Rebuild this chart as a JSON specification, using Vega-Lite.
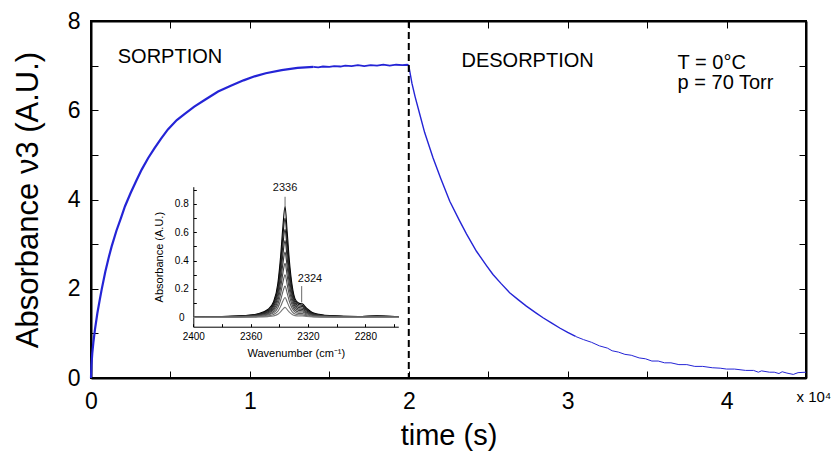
{
"$schema": "https://vega.github.io/schema/vega-lite/v6.json",
"width": 715, "height": 357,
"autosize": {"type": "none"},
"padding": {"left": 91, "top": 21, "right": 31, "bottom": 74},
"background": "white",
"view": {"stroke": "#000", "strokeWidth": 2},
"config": {"font": "Liberation Sans", "view": {"stroke": "#000", "strokeWidth": 2},
 "axis": {"grid": false, "labelColor": "#000", "titleColor": "#000", "tickColor": "#000", "domainColor": "#000", "titleFontWeight": "normal", "labelFlush": false, "labelOverlap": false}},
"datasets": {
"curve": [
{"t":0,"v":0,"seg":"s1"},{"t":0.003,"v":0.3,"seg":"s1"},{"t":0.008,"v":0.55,"seg":"s1"},{"t":0.015,"v":0.8,"seg":"s1"},{"t":0.025,"v":1.09,"seg":"s1"},{"t":0.04,"v":1.45,"seg":"s1"},{"t":0.055,"v":1.75,"seg":"s1"},{"t":0.067,"v":1.98,"seg":"s1"},{"t":0.09,"v":2.38,"seg":"s1"},{"t":0.11,"v":2.68,"seg":"s1"},{"t":0.13,"v":2.95,"seg":"s1"},{"t":0.16,"v":3.3,"seg":"s1"},{"t":0.19,"v":3.6,"seg":"s1"},{"t":0.214,"v":3.85,"seg":"s1"},{"t":0.25,"v":4.15,"seg":"s1"},{"t":0.285,"v":4.42,"seg":"s1"},{"t":0.319,"v":4.67,"seg":"s1"},{"t":0.36,"v":4.93,"seg":"s1"},{"t":0.4,"v":5.15,"seg":"s1"},{"t":0.44,"v":5.36,"seg":"s1"},{"t":0.484,"v":5.57,"seg":"s1"},{"t":0.54,"v":5.78,"seg":"s1"},{"t":0.59,"v":5.92,"seg":"s1"},{"t":0.65,"v":6.08,"seg":"s1"},{"t":0.72,"v":6.24,"seg":"s1"},{"t":0.8,"v":6.42,"seg":"s1"},{"t":0.88,"v":6.55,"seg":"s1"},{"t":0.96,"v":6.67,"seg":"s1"},{"t":1.03,"v":6.76,"seg":"s1"},{"t":1.1,"v":6.83,"seg":"s1"},{"t":1.2,"v":6.9,"seg":"s1"},{"t":1.3,"v":6.95,"seg":"s1"},{"t":1.4,"v":6.97,"seg":"s1"},
{"t":1.4,"v":6.97,"seg":"s2"},{"t":1.43,"v":6.96,"seg":"s2"},{"t":1.46,"v":6.98,"seg":"s2"},{"t":1.5,"v":6.97,"seg":"s2"},{"t":1.53,"v":6.99,"seg":"s2"},{"t":1.57,"v":6.98,"seg":"s2"},{"t":1.6,"v":7.0,"seg":"s2"},{"t":1.64,"v":6.99,"seg":"s2"},{"t":1.68,"v":7.01,"seg":"s2"},{"t":1.72,"v":6.99,"seg":"s2"},{"t":1.76,"v":7.01,"seg":"s2"},{"t":1.8,"v":7.0,"seg":"s2"},{"t":1.84,"v":7.02,"seg":"s2"},{"t":1.88,"v":7.0,"seg":"s2"},{"t":1.92,"v":7.02,"seg":"s2"},{"t":1.96,"v":7.01,"seg":"s2"},{"t":1.99,"v":7.02,"seg":"s2"},{"t":2.0,"v":7.0,"seg":"s2"},
{"t":2.0,"v":7.0,"seg":"d1"},{"t":2.005,"v":6.9,"seg":"d1"},{"t":2.02,"v":6.6,"seg":"d1"},{"t":2.04,"v":6.3,"seg":"d1"},{"t":2.07,"v":5.9,"seg":"d1"},{"t":2.1,"v":5.5,"seg":"d1"},{"t":2.153,"v":4.93,"seg":"d1"},{"t":2.2,"v":4.48,"seg":"d1"},{"t":2.258,"v":3.96,"seg":"d1"},{"t":2.32,"v":3.52,"seg":"d1"},{"t":2.363,"v":3.23,"seg":"d1"},{"t":2.426,"v":2.84,"seg":"d1"},{"t":2.489,"v":2.52,"seg":"d1"},{"t":2.53,"v":2.32,"seg":"d1"},{"t":2.58,"v":2.12,"seg":"d1"},{"t":2.635,"v":1.91,"seg":"d1"},{"t":2.69,"v":1.75,"seg":"d1"},{"t":2.74,"v":1.61,"seg":"d1"},{"t":2.8,"v":1.46,"seg":"d1"},{"t":2.845,"v":1.35,"seg":"d1"},{"t":2.9,"v":1.23,"seg":"d1"},{"t":2.95,"v":1.12,"seg":"d1"},{"t":3.0,"v":1.02,"seg":"d1"},{"t":3.05,"v":0.93,"seg":"d1"},
{"t":3.05,"v":0.93,"seg":"d2"},{"t":3.1,"v":0.86,"seg":"d2"},{"t":3.15,"v":0.8,"seg":"d2"},{"t":3.2,"v":0.72,"seg":"d2"},{"t":3.25,"v":0.67,"seg":"d2"},{"t":3.28,"v":0.61,"seg":"d2"},{"t":3.32,"v":0.58,"seg":"d2"},{"t":3.36,"v":0.53,"seg":"d2"},{"t":3.4,"v":0.51,"seg":"d2"},{"t":3.45,"v":0.45,"seg":"d2"},{"t":3.49,"v":0.43,"seg":"d2"},{"t":3.53,"v":0.38,"seg":"d2"},{"t":3.57,"v":0.38,"seg":"d2"},{"t":3.61,"v":0.34,"seg":"d2"},{"t":3.65,"v":0.34,"seg":"d2"},{"t":3.7,"v":0.3,"seg":"d2"},{"t":3.75,"v":0.3,"seg":"d2"},{"t":3.8,"v":0.26,"seg":"d2"},{"t":3.85,"v":0.26,"seg":"d2"},{"t":3.91,"v":0.23,"seg":"d2"},{"t":3.96,"v":0.22,"seg":"d2"},{"t":4.0,"v":0.2,"seg":"d2"},{"t":4.05,"v":0.2,"seg":"d2"},{"t":4.12,"v":0.17,"seg":"d2"},{"t":4.17,"v":0.17,"seg":"d2"},{"t":4.2,"v":0.13,"seg":"d2"},{"t":4.22,"v":0.16,"seg":"d2"},{"t":4.27,"v":0.13,"seg":"d2"},{"t":4.3,"v":0.13,"seg":"d2"},{"t":4.33,"v":0.1,"seg":"d2"},{"t":4.35,"v":0.14,"seg":"d2"},{"t":4.38,"v":0.11,"seg":"d2"},{"t":4.42,"v":0.08,"seg":"d2"},{"t":4.45,"v":0.12,"seg":"d2"},{"t":4.5,"v":0.13,"seg":"d2"}
],
"marker": [{"t": 2}],
"phases": [{"label":"SORPTION","t":0.497,"v":7.2},{"label":"DESORPTION","t":2.748,"v":7.1}],
"conditions": [{"label":"T = 0°C","t":3.692,"v":7.07},{"label":"p = 70 Torr","t":3.692,"v":6.6}],
"multiplier": [{"label":"x 10⁴","t":4.44,"v":-0.42}],
"leaders": [{"w":2336,"a":0.779,"a2":0.849},{"w":2324.4,"a":0.105,"a2":0.22}],
"peaks": [{"label":"2336","w":2336,"a":0.914},{"label":"2324","w":2318.6,"a":0.268}],
"spectra": [
{"s":1,"w":2400,"a":0.003},{"s":1,"w":2380,"a":0.006},{"s":1,"w":2365,"a":0.012},{"s":1,"w":2355,"a":0.025},{"s":1,"w":2348,"a":0.055},{"s":1,"w":2344,"a":0.11},{"s":1,"w":2341,"a":0.24},{"s":1,"w":2339,"a":0.44},{"s":1,"w":2337.5,"a":0.64},{"s":1,"w":2336,"a":0.78},{"s":1,"w":2334.5,"a":0.6},{"s":1,"w":2333,"a":0.4},{"s":1,"w":2331,"a":0.22},{"s":1,"w":2329,"a":0.13},{"s":1,"w":2326.5,"a":0.1},{"s":1,"w":2324,"a":0.095},{"s":1,"w":2321,"a":0.065},{"s":1,"w":2316,"a":0.03},{"s":1,"w":2305,"a":0.012},{"s":1,"w":2285,"a":0.006},{"s":1,"w":2272,"a":0.01},{"s":1,"w":2257,"a":0.004},
{"s":2,"w":2400,"a":0.003},{"s":2,"w":2380,"a":0.005},{"s":2,"w":2365,"a":0.011},{"s":2,"w":2355,"a":0.022},{"s":2,"w":2348,"a":0.049},{"s":2,"w":2344,"a":0.099},{"s":2,"w":2341,"a":0.215},{"s":2,"w":2339,"a":0.395},{"s":2,"w":2337.5,"a":0.574},{"s":2,"w":2336,"a":0.7},{"s":2,"w":2334.5,"a":0.538},{"s":2,"w":2333,"a":0.359},{"s":2,"w":2331,"a":0.197},{"s":2,"w":2329,"a":0.117},{"s":2,"w":2326.5,"a":0.09},{"s":2,"w":2324,"a":0.085},{"s":2,"w":2321,"a":0.058},{"s":2,"w":2316,"a":0.027},{"s":2,"w":2305,"a":0.011},{"s":2,"w":2285,"a":0.005},{"s":2,"w":2272,"a":0.009},{"s":2,"w":2257,"a":0.004},
{"s":3,"w":2400,"a":0.002},{"s":3,"w":2380,"a":0.005},{"s":3,"w":2365,"a":0.01},{"s":3,"w":2355,"a":0.02},{"s":3,"w":2348,"a":0.044},{"s":3,"w":2344,"a":0.087},{"s":3,"w":2341,"a":0.191},{"s":3,"w":2339,"a":0.35},{"s":3,"w":2337.5,"a":0.509},{"s":3,"w":2336,"a":0.62},{"s":3,"w":2334.5,"a":0.477},{"s":3,"w":2333,"a":0.318},{"s":3,"w":2331,"a":0.175},{"s":3,"w":2329,"a":0.103},{"s":3,"w":2326.5,"a":0.08},{"s":3,"w":2324,"a":0.076},{"s":3,"w":2321,"a":0.052},{"s":3,"w":2316,"a":0.024},{"s":3,"w":2305,"a":0.01},{"s":3,"w":2285,"a":0.005},{"s":3,"w":2272,"a":0.008},{"s":3,"w":2257,"a":0.003},
{"s":4,"w":2400,"a":0.002},{"s":4,"w":2380,"a":0.004},{"s":4,"w":2365,"a":0.008},{"s":4,"w":2355,"a":0.017},{"s":4,"w":2348,"a":0.038},{"s":4,"w":2344,"a":0.076},{"s":4,"w":2341,"a":0.166},{"s":4,"w":2339,"a":0.304},{"s":4,"w":2337.5,"a":0.443},{"s":4,"w":2336,"a":0.54},{"s":4,"w":2334.5,"a":0.415},{"s":4,"w":2333,"a":0.277},{"s":4,"w":2331,"a":0.152},{"s":4,"w":2329,"a":0.09},{"s":4,"w":2326.5,"a":0.069},{"s":4,"w":2324,"a":0.066},{"s":4,"w":2321,"a":0.045},{"s":4,"w":2316,"a":0.021},{"s":4,"w":2305,"a":0.008},{"s":4,"w":2285,"a":0.004},{"s":4,"w":2272,"a":0.007},{"s":4,"w":2257,"a":0.003},
{"s":5,"w":2400,"a":0.002},{"s":5,"w":2380,"a":0.004},{"s":5,"w":2365,"a":0.007},{"s":5,"w":2355,"a":0.015},{"s":5,"w":2348,"a":0.032},{"s":5,"w":2344,"a":0.065},{"s":5,"w":2341,"a":0.142},{"s":5,"w":2339,"a":0.26},{"s":5,"w":2337.5,"a":0.378},{"s":5,"w":2336,"a":0.46},{"s":5,"w":2334.5,"a":0.354},{"s":5,"w":2333,"a":0.236},{"s":5,"w":2331,"a":0.13},{"s":5,"w":2329,"a":0.077},{"s":5,"w":2326.5,"a":0.059},{"s":5,"w":2324,"a":0.056},{"s":5,"w":2321,"a":0.038},{"s":5,"w":2316,"a":0.018},{"s":5,"w":2305,"a":0.007},{"s":5,"w":2285,"a":0.004},{"s":5,"w":2272,"a":0.006},{"s":5,"w":2257,"a":0.002},
{"s":6,"w":2400,"a":0.001},{"s":6,"w":2380,"a":0.003},{"s":6,"w":2365,"a":0.006},{"s":6,"w":2355,"a":0.012},{"s":6,"w":2348,"a":0.027},{"s":6,"w":2344,"a":0.054},{"s":6,"w":2341,"a":0.117},{"s":6,"w":2339,"a":0.214},{"s":6,"w":2337.5,"a":0.312},{"s":6,"w":2336,"a":0.38},{"s":6,"w":2334.5,"a":0.292},{"s":6,"w":2333,"a":0.195},{"s":6,"w":2331,"a":0.107},{"s":6,"w":2329,"a":0.063},{"s":6,"w":2326.5,"a":0.049},{"s":6,"w":2324,"a":0.046},{"s":6,"w":2321,"a":0.032},{"s":6,"w":2316,"a":0.015},{"s":6,"w":2305,"a":0.006},{"s":6,"w":2285,"a":0.003},{"s":6,"w":2272,"a":0.005},{"s":6,"w":2257,"a":0.002},
{"s":7,"w":2400,"a":0.001},{"s":7,"w":2380,"a":0.002},{"s":7,"w":2365,"a":0.005},{"s":7,"w":2355,"a":0.01},{"s":7,"w":2348,"a":0.021},{"s":7,"w":2344,"a":0.042},{"s":7,"w":2341,"a":0.092},{"s":7,"w":2339,"a":0.169},{"s":7,"w":2337.5,"a":0.246},{"s":7,"w":2336,"a":0.3},{"s":7,"w":2334.5,"a":0.231},{"s":7,"w":2333,"a":0.154},{"s":7,"w":2331,"a":0.085},{"s":7,"w":2329,"a":0.05},{"s":7,"w":2326.5,"a":0.038},{"s":7,"w":2324,"a":0.037},{"s":7,"w":2321,"a":0.025},{"s":7,"w":2316,"a":0.012},{"s":7,"w":2305,"a":0.005},{"s":7,"w":2285,"a":0.002},{"s":7,"w":2272,"a":0.004},{"s":7,"w":2257,"a":0.002},
{"s":8,"w":2400,"a":0.001},{"s":8,"w":2380,"a":0.002},{"s":8,"w":2365,"a":0.003},{"s":8,"w":2355,"a":0.007},{"s":8,"w":2348,"a":0.016},{"s":8,"w":2344,"a":0.031},{"s":8,"w":2341,"a":0.068},{"s":8,"w":2339,"a":0.124},{"s":8,"w":2337.5,"a":0.181},{"s":8,"w":2336,"a":0.22},{"s":8,"w":2334.5,"a":0.169},{"s":8,"w":2333,"a":0.113},{"s":8,"w":2331,"a":0.062},{"s":8,"w":2329,"a":0.037},{"s":8,"w":2326.5,"a":0.028},{"s":8,"w":2324,"a":0.027},{"s":8,"w":2321,"a":0.018},{"s":8,"w":2316,"a":0.008},{"s":8,"w":2305,"a":0.003},{"s":8,"w":2285,"a":0.002},{"s":8,"w":2272,"a":0.003},{"s":8,"w":2257,"a":0.001},
{"s":9,"w":2400,"a":0.001},{"s":9,"w":2380,"a":0.001},{"s":9,"w":2365,"a":0.002},{"s":9,"w":2355,"a":0.004},{"s":9,"w":2348,"a":0.01},{"s":9,"w":2344,"a":0.02},{"s":9,"w":2341,"a":0.043},{"s":9,"w":2339,"a":0.079},{"s":9,"w":2337.5,"a":0.115},{"s":9,"w":2336,"a":0.14},{"s":9,"w":2334.5,"a":0.107},{"s":9,"w":2333,"a":0.072},{"s":9,"w":2331,"a":0.039},{"s":9,"w":2329,"a":0.023},{"s":9,"w":2326.5,"a":0.018},{"s":9,"w":2324,"a":0.017},{"s":9,"w":2321,"a":0.012},{"s":9,"w":2316,"a":0.005},{"s":9,"w":2305,"a":0.002},{"s":9,"w":2285,"a":0.001},{"s":9,"w":2272,"a":0.002},{"s":9,"w":2257,"a":0.001},
{"s":10,"w":2400,"a":0.0},{"s":10,"w":2380,"a":0.001},{"s":10,"w":2365,"a":0.001},{"s":10,"w":2355,"a":0.002},{"s":10,"w":2348,"a":0.005},{"s":10,"w":2344,"a":0.01},{"s":10,"w":2341,"a":0.022},{"s":10,"w":2339,"a":0.04},{"s":10,"w":2337.5,"a":0.058},{"s":10,"w":2336,"a":0.07},{"s":10,"w":2334.5,"a":0.054},{"s":10,"w":2333,"a":0.036},{"s":10,"w":2331,"a":0.02},{"s":10,"w":2329,"a":0.012},{"s":10,"w":2326.5,"a":0.009},{"s":10,"w":2324,"a":0.009},{"s":10,"w":2321,"a":0.006},{"s":10,"w":2316,"a":0.003},{"s":10,"w":2305,"a":0.001},{"s":10,"w":2285,"a":0.001},{"s":10,"w":2272,"a":0.001},{"s":10,"w":2257,"a":0.0}
]
},
"layer": [
{
 "layer": [
  {"data": {"name": "curve"},
   "mark": {"type": "line", "color": "#2424d6"},
   "encoding": {
    "x": {"field": "t", "type": "quantitative", "scale": {"domain": [0, 4.5], "nice": false, "zero": false},
      "axis": {"orient": "bottom", "offset": -7, "values": [0,0.5,1,1.5,2,2.5,3,3.5,4,4.5], "labelExpr": "datum.value % 1 == 0 ? format(datum.value, 'd') : ''", "tickSize": 7, "tickWidth": 1, "domain": false, "labelFontSize": 23, "labelPadding": 12, "title": "time (s)", "titleFontSize": 29, "titlePadding": 8}},
    "y": {"field": "v", "type": "quantitative", "scale": {"domain": [0, 8], "nice": false, "zero": false},
      "axis": {"orient": "left", "offset": -7, "values": [0,1,2,3,4,5,6,7,8], "labelExpr": "datum.value % 2 == 0 ? format(datum.value, 'd') : ''", "tickSize": 7, "tickWidth": 1, "domain": false, "labelFontSize": 23, "labelPadding": 11, "title": "Absorbance ν3 (A.U.)", "titleFontSize": 31, "titlePadding": 23}},
    "detail": {"field": "seg"},
    "strokeWidth": {"field": "seg", "type": "nominal", "scale": {"domain": ["s1","s2","d1","d2"], "range": [2.2, 1, 2.2, 1]}, "legend": null}
   }},
  {"data": {"name": "marker"},
   "mark": {"type": "rule", "strokeDash": [7, 4], "strokeWidth": 2, "color": "#000"},
   "encoding": {"x": {"field": "t", "type": "quantitative"}}},
  {"data": {"name": "phases"},
   "mark": {"type": "text", "fontSize": 20, "align": "center", "baseline": "middle", "color": "#000"},
   "encoding": {"x": {"field": "t", "type": "quantitative"}, "y": {"field": "v", "type": "quantitative"}, "text": {"field": "label"}}},
  {"data": {"name": "conditions"},
   "mark": {"type": "text", "fontSize": 20, "align": "left", "baseline": "middle", "color": "#000"},
   "encoding": {"x": {"field": "t", "type": "quantitative"}, "y": {"field": "v", "type": "quantitative"}, "text": {"field": "label"}}},
  {"data": {"name": "multiplier"},
   "mark": {"type": "text", "fontSize": 15, "align": "left", "baseline": "middle", "color": "#000"},
   "encoding": {"x": {"field": "t", "type": "quantitative"}, "y": {"field": "v", "type": "quantitative"}, "text": {"field": "label"}}}
 ]
},
{
 "data": {"name": "curve"},
 "mark": {"type": "line", "opacity": 0},
 "encoding": {
  "x": {"field": "t", "type": "quantitative", "scale": {"domain": [0, 4.5], "nice": false, "zero": false},
    "axis": {"orient": "top", "offset": -7, "values": [0,0.5,1,1.5,2,2.5,3,3.5,4,4.5], "labels": false, "tickSize": 7, "domain": false, "title": null}},
  "y": {"field": "v", "type": "quantitative", "scale": {"domain": [0, 8], "nice": false, "zero": false},
    "axis": {"orient": "right", "offset": -7, "values": [0,1,2,3,4,5,6,7,8], "labels": false, "tickSize": 7, "domain": false, "title": null}}
 }
},
{
 "data": {"name": "curve"},
 "mark": {"type": "line", "opacity": 0},
 "encoding": {
  "x": {"field": "t", "type": "quantitative", "scale": {"domain": [0, 4.5], "nice": false, "zero": false},
    "axis": {"orient": "bottom", "ticks": false, "labels": false, "domain": true, "domainWidth": 2, "title": null}},
  "y": {"field": "v", "type": "quantitative", "scale": {"domain": [0, 8], "nice": false, "zero": false},
    "axis": {"orient": "left", "ticks": false, "labels": false, "domain": true, "domainWidth": 2, "title": null}}
 }
},
{
 "data": {"name": "curve"},
 "mark": {"type": "line", "opacity": 0},
 "encoding": {
  "x": {"field": "t", "type": "quantitative", "scale": {"domain": [0, 4.5], "nice": false, "zero": false},
    "axis": {"orient": "top", "ticks": false, "labels": false, "domain": true, "domainWidth": 2, "title": null}},
  "y": {"field": "v", "type": "quantitative", "scale": {"domain": [0, 8], "nice": false, "zero": false},
    "axis": {"orient": "right", "ticks": false, "labels": false, "domain": true, "domainWidth": 2, "title": null}}
 }
},
{
 "layer": [
  {"data": {"name": "spectra"},
   "mark": {"type": "line", "strokeWidth": 1.1, "interpolate": "monotone"},
   "encoding": {
    "x": {"field": "w", "type": "quantitative", "scale": {"domain": [2257, 2400], "range": [307.3, 102.3], "nice": false, "zero": false},
      "axis": {"orient": "bottom", "offset": -54.3, "values": [2260,2280,2300,2320,2340,2360,2380,2400], "labelExpr": "datum.value % 40 == 0 ? format(datum.value, 'd') : ''", "tickSize": 3, "domain": false, "labelFontSize": 10, "labelPadding": 5, "title": "Wavenumber (cm⁻¹)", "titleFontSize": 11, "titlePadding": 6}},
    "y": {"field": "a", "type": "quantitative", "scale": {"domain": [-0.066, 0.92], "range": [305.7, 165.7], "nice": false, "zero": false},
      "axis": {"orient": "left", "offset": -105.3, "values": [0,0.1,0.2,0.3,0.4,0.5,0.6,0.7,0.8,0.9], "labelExpr": "round(datum.value * 10) % 2 == 0 ? format(datum.value, '~g') : ''", "labelAlign": "center", "tickSize": 3, "domain": false, "labelFontSize": 10, "labelPadding": 12, "title": "Absorbance (A.U.)", "titleFontSize": 11, "titlePadding": 10}},
    "detail": {"field": "s"},
    "color": {"field": "s", "type": "quantitative", "scale": {"range": ["#000000", "#7a7a7a"]}, "legend": null}
   }},
  {"data": {"name": "leaders"},
   "mark": {"type": "rule", "color": "#444", "strokeWidth": 0.8},
   "encoding": {
    "x": {"field": "w", "type": "quantitative", "axis": {"orient": "bottom", "offset": -51.3, "ticks": false, "labels": false, "domain": true, "domainWidth": 1, "title": null}},
    "y": {"field": "a", "type": "quantitative", "axis": {"orient": "left", "offset": -102.3, "ticks": false, "labels": false, "domain": true, "domainWidth": 1, "title": null}},
    "y2": {"field": "a2"}}},
  {"data": {"name": "peaks"},
   "mark": {"type": "text", "fontSize": 11, "align": "center", "baseline": "middle", "color": "#111"},
   "encoding": {"x": {"field": "w", "type": "quantitative", "axis": null}, "y": {"field": "a", "type": "quantitative", "axis": null}, "text": {"field": "label"}}}
 ],
 "resolve": {"axis": {"x": "independent", "y": "independent"}}
}
],
"resolve": {"scale": {"x": "independent", "y": "independent", "color": "independent", "strokeWidth": "independent"}}
}
